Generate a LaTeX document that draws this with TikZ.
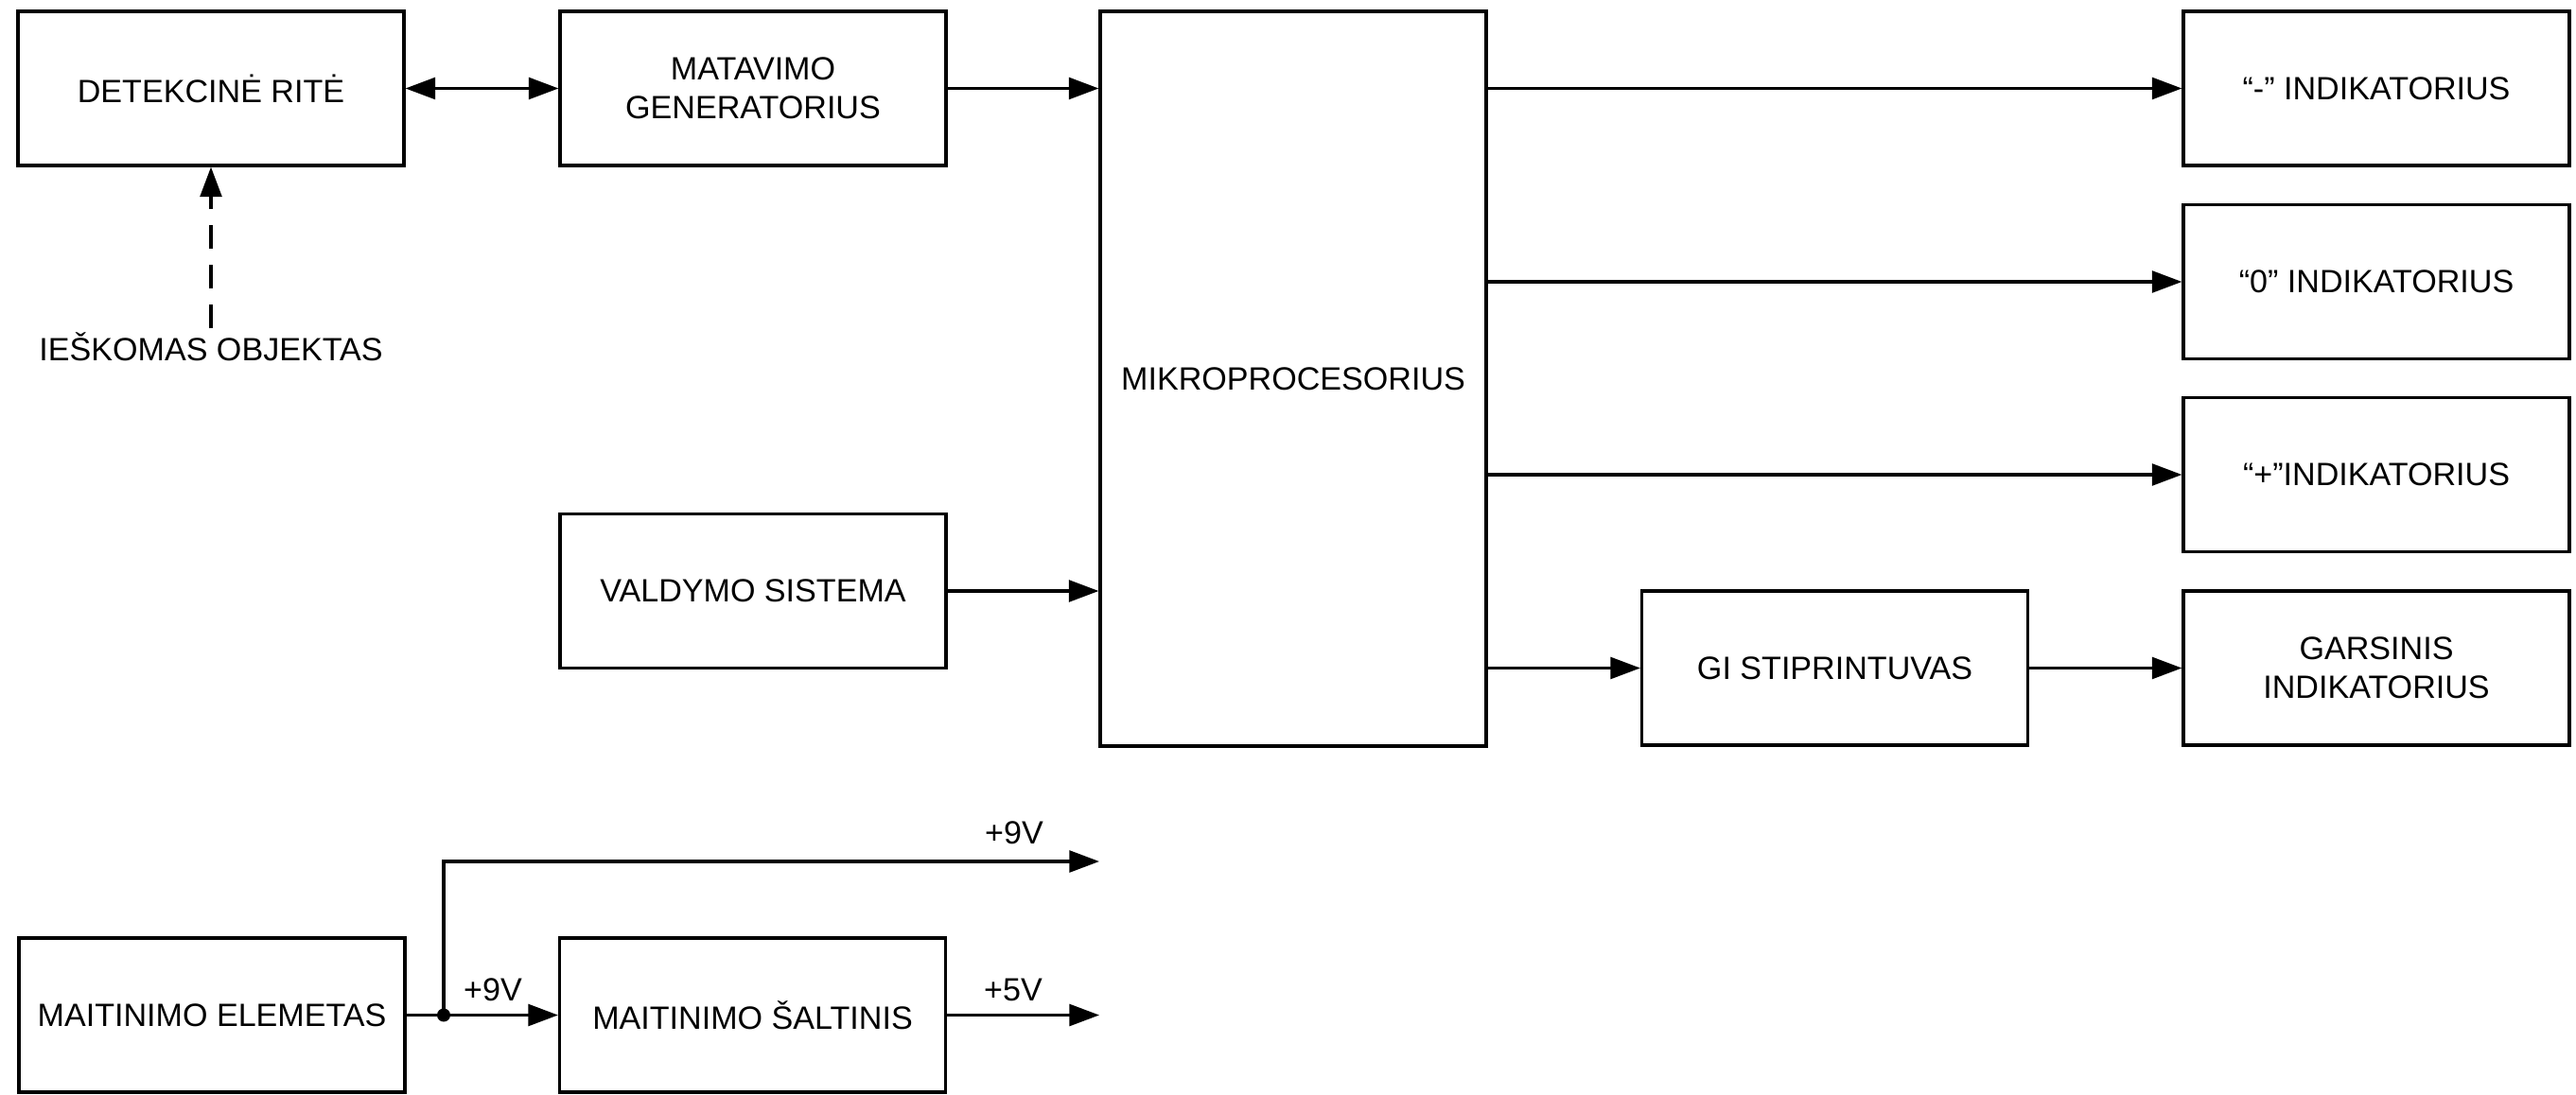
\documentclass[tikz,border=0pt]{standalone}
\usepackage{fontspec}
\setmainfont{Liberation Sans}
\usetikzlibrary{arrows.meta}

\begin{document}
\begin{tikzpicture}[line width=0.9pt, >={Triangle[length=9pt,width=6.5pt]},
    font=\fontsize{9.7}{11.6}\selectfont,
    blok/.style={draw, minimum width=4.08cm, minimum height=1.63cm, align=center, inner sep=0pt},
    lbl/.style={inner sep=0pt}]
  \useasboundingbox (0,0) rectangle (27.23,-11.58);

  \node[blok] (rite) at (2.23, -0.935) {DETEKCINĖ RITĖ};
  \node[blok] (gen) at (7.96, -0.935) {MATAVIMO\\GENERATORIUS};
  \node[blok, minimum height=7.77cm] (mcu) at (13.67, -4.005) {MIKROPROCESORIUS};
  \node[blok] (valdymas) at (7.96, -6.25) {VALDYMO SISTEMA};
  \node[lbl] (obj) at (2.23, -3.67) {IEŠKOMAS OBJEKTAS};

  \node[blok] (minus) at (25.12, -0.935) {“-” INDIKATORIUS};
  \node[blok] (zero) at (25.12, -2.98) {“0” INDIKATORIUS};
  \node[blok] (plus) at (25.12, -5.02) {“+”INDIKATORIUS};
  \node[blok] (gi) at (19.395, -7.065) {GI STIPRINTUVAS};
  \node[blok] (garsas) at (25.12, -7.065) {GARSINIS\\INDIKATORIUS};

  \draw[<->] (rite) -- (gen);
  \draw[->, dash pattern=on 0.25cm off 0.17cm] (obj.north) ++(0,0.03) -- (rite.south);
  \draw[->] (gen) -- (gen -| mcu.west);
  \draw[->] (valdymas) -- (valdymas -| mcu.west);

  \draw[->] (minus -| mcu.east) -- (minus);
  \draw[->] (zero -| mcu.east) -- (zero);
  \draw[->] (plus -| mcu.east) -- (plus);
  \draw[->] (gi -| mcu.east) -- (gi);
  \draw[->] (gi) -- (garsas);

  % maitinimas
  \node[blok] (elem) at (2.24, -10.735) {MAITINIMO ELEMETAS};
  \node[blok] (saltinis) at (7.955, -10.735) {MAITINIMO ŠALTINIS};
  \coordinate (j) at (4.69, -10.735);
  \coordinate (v9) at (11.62, -9.11);
  \coordinate (v5) at (11.62, -10.735);

  \draw (elem) -- (j);
  \draw[->] (j) -- (saltinis);
  \draw[->] (j) |- (v9);
  \draw[->] (saltinis) -- (v5);
  \fill (j) circle (2pt);

  \node[lbl] (u9a) at (10.72, -8.81) {+9V};
  \node[lbl] (u9b) at (5.21, -10.47) {+9V};
  \node[lbl] (u5) at (10.71, -10.47) {+5V};
\end{tikzpicture}
\end{document}
